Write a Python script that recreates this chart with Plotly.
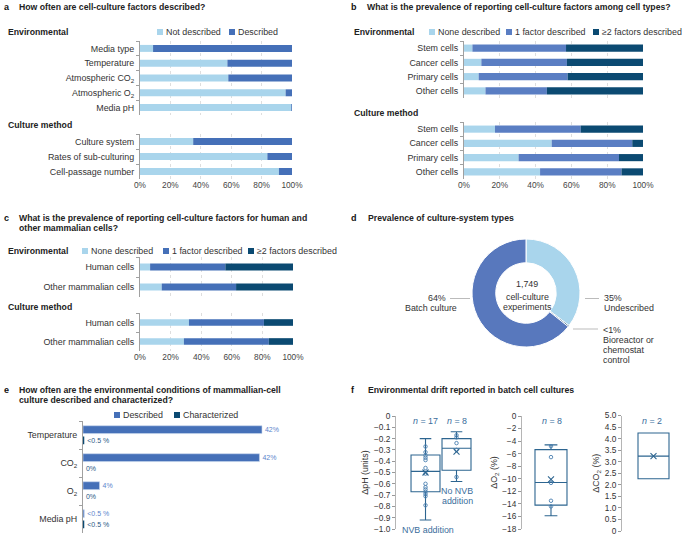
import numpy as np
import plotly.graph_objects as go

W, H = 685, 536
FONT = "Liberation Sans, Arial, Helvetica, sans-serif"

LIGHT = "#a9d5ec"
MED = "#4570b8"
MED_B = "#5a7ec3"
MED_D = "#5878bd"
DARK = "#0b4a72"
BOXC = "#2d6590"
TXTB = "#3a6d9c"
GREY = "#a0a0a0"

# ---------------- data ----------------
pct_ticks = [0, 20, 40, 60, 80, 100]
pct_labels = ["0%", "20%", "40%", "60%", "80%", "100%"]

# panel a
a_env_cats = ["Media type", "Temperature", "Atmospheric CO<sub>2</sub>",
              "Atmospheric O<sub>2</sub>", "Media pH"]
a_env_not = [8.6, 57.5, 58.1, 95.8, 99.5]
a_env_desc = [91.4, 42.5, 41.9, 4.2, 0.5]
a_cm_cats = ["Culture system", "Rates of sub-culturing", "Cell-passage number"]
a_cm_not = [35.0, 83.8, 91.4]
a_cm_desc = [65.0, 16.2, 8.6]

# panel b
b_cats = ["Stem cells", "Cancer cells", "Primary cells", "Other cells"]
b_env_none = [4.7, 9.7, 8.2, 12.0]
b_env_one = [52.3, 47.8, 49.7, 34.3]
b_env_two = [43.0, 42.5, 42.1, 53.7]
b_cm_none = [17.3, 49.0, 30.5, 42.5]
b_cm_one = [47.9, 45.0, 56.1, 45.5]
b_cm_two = [34.8, 6.0, 13.4, 12.0]

# panel c
c_cats = ["Human cells", "Other mammalian cells"]
c_env_none = [6.6, 14.2]
c_env_one = [49.2, 48.6]
c_env_two = [44.2, 37.2]
c_cm_none = [32.0, 28.7]
c_cm_one = [49.0, 55.5]
c_cm_two = [19.0, 15.8]

# panel d
d_labels = ["Undescribed", "Bioreactor or chemostat control", "Batch culture"]
d_values = [35.3, 0.4, 64.3]

# panel e
e_cats = ["Temperature", "CO<sub>2</sub>", "O<sub>2</sub>", "Media pH"]
e_desc = [42.2, 41.6, 3.9, 0.3]
e_char = [0.3, 0.0, 0.0, 0.3]
e_desc_text = ["42%", "42%", "4%", "<0.5 %"]
e_char_text = ["<0.5 %", "0%", "0%", "<0.5 %"]

# panel f
ph_groups = ["NVB addition", "No NVB addition"]
ph_q1 = [-0.67, -0.48]
ph_median = [-0.49, -0.285]
ph_q3 = [-0.345, -0.20]
ph_low = [-0.92, -0.58]
ph_high = [-0.20, -0.14]
ph_mean = [-0.50, -0.315]
ph_nvb_pts = [-0.27, -0.32, -0.35, -0.37, -0.39, -0.46, -0.51, -0.60,
              -0.63, -0.65, -0.67, -0.69, -0.71, -0.79]
ph_nonvb_pts = [-0.17, -0.19, -0.24, -0.30, -0.54]
ph_ticks = [0, -0.1, -0.2, -0.3, -0.4, -0.5, -0.6, -0.7, -0.8, -0.9, -1.0]
ph_ticklabels = ["0", "−0.1", "−0.2", "−0.3", "−0.4", "−0.5", "−0.6",
                 "−0.7", "−0.8", "−0.9", "−1.0"]

o2_q1, o2_median, o2_q3, o2_low, o2_high, o2_mean = -14.2, -10.6, -5.35, -15.9, -4.6, -10.1
o2_pts = [-4.8, -6.55, -10.65, -13.5, -14.4]

co2_q1, co2_median, co2_q3, co2_low, co2_high, co2_mean = 2.26, 3.24, 4.24, 2.26, 4.24, 3.24
co2_ticks = [0, 0.5, 1.0, 1.5, 2.0, 2.5, 3.0, 3.5, 4.0, 4.5, 5.0]
co2_ticklabels = ["0", "0.5", "1.0", "1.5", "2.0", "2.5", "3.0", "3.5", "4.0", "4.5", "5.0"]

LBL = 8.9      # category / legend / annotation text
TICK = 8.3     # numeric tick labels
TTL = 8.7      # bold titles


def px(x):
    return x / W


def py(y):
    return 1 - y / H


fig = go.Figure()


def add_stacked(xa, ya, cats, series, colors, width):
    base = np.zeros(len(cats))
    for vals, col in zip(series, colors):
        v = np.array(vals, dtype=float)
        fig.add_trace(go.Bar(y=cats, x=v, base=base.copy(), orientation="h",
                             marker=dict(color=col, line=dict(width=0)),
                             width=width, xaxis=xa, yaxis=ya,
                             showlegend=False, hoverinfo="skip"))
        base = base + v


add_stacked("x", "y", a_env_cats, [a_env_not, a_env_desc], [LIGHT, MED], 0.47)
add_stacked("x2", "y2", a_cm_cats, [a_cm_not, a_cm_desc], [LIGHT, MED], 0.47)
add_stacked("x3", "y3", b_cats, [b_env_none, b_env_one, b_env_two], [LIGHT, MED_B, DARK], 0.5)
add_stacked("x4", "y4", b_cats, [b_cm_none, b_cm_one, b_cm_two], [LIGHT, MED_B, DARK], 0.5)
add_stacked("x5", "y5", c_cats, [c_env_none, c_env_one, c_env_two], [LIGHT, MED, DARK], 0.35)
add_stacked("x6", "y6", c_cats, [c_cm_none, c_cm_one, c_cm_two], [LIGHT, MED, DARK], 0.35)

# panel e grouped bars
fig.add_trace(go.Bar(y=e_cats, x=e_desc, orientation="h", offset=-0.33, width=0.28,
                     marker=dict(color=MED, line=dict(color="#c9d6ee", width=0.6)),
                     text=e_desc_text, textposition="outside", cliponaxis=False,
                     textfont=dict(size=LBL, color="#5b84cc", family=FONT),
                     xaxis="x7", yaxis="y7", showlegend=False, hoverinfo="skip"))
fig.add_trace(go.Bar(y=e_cats, x=e_char, orientation="h", offset=0.05, width=0.28,
                     marker=dict(color=DARK, line=dict(width=0)),
                     text=e_char_text, textposition="outside", cliponaxis=False,
                     textfont=dict(size=LBL, color="#1f5785", family=FONT),
                     xaxis="x7", yaxis="y7", showlegend=False, hoverinfo="skip"))

# panel d donut
fig.add_trace(go.Pie(values=d_values, labels=d_labels, hole=0.56, sort=False,
                     direction="clockwise", rotation=0,
                     marker=dict(colors=[LIGHT, DARK, MED_D], line=dict(color="white", width=1)),
                     textinfo="none", hoverinfo="skip", showlegend=False,
                     domain=dict(x=[px(472), px(580)], y=[py(347), py(239)])))

# panel f boxes
box_style = dict(boxpoints=False, whiskerwidth=0.4, fillcolor="rgba(0,0,0,0)",
                 line=dict(color=BOXC, width=1.1), showlegend=False, hoverinfo="skip")
pt_style = dict(mode="markers", showlegend=False, hoverinfo="skip", cliponaxis=False,
                marker=dict(symbol="circle-open", size=3.5, color="#4a7fb0",
                            line=dict(width=0.9, color="#4a7fb0")))
mean_style = dict(mode="markers", showlegend=False, hoverinfo="skip", cliponaxis=False,
                  marker=dict(symbol="x-thin-open", size=6, color=BOXC,
                              line=dict(width=1.1, color=BOXC)))

for i, g in enumerate(ph_groups):
    fig.add_trace(go.Box(x=[g], q1=[ph_q1[i]], median=[ph_median[i]], q3=[ph_q3[i]],
                         lowerfence=[ph_low[i]], upperfence=[ph_high[i]],
                         width=0.935, xaxis="x8", yaxis="y8", **box_style))
fig.add_trace(go.Scatter(x=[ph_groups[0]] * len(ph_nvb_pts), y=ph_nvb_pts,
                         xaxis="x8", yaxis="y8", **pt_style))
fig.add_trace(go.Scatter(x=[ph_groups[1]] * len(ph_nonvb_pts), y=ph_nonvb_pts,
                         xaxis="x8", yaxis="y8", **pt_style))
fig.add_trace(go.Scatter(x=ph_groups, y=ph_mean, xaxis="x8", yaxis="y8", **mean_style))

fig.add_trace(go.Box(x=["O2"], q1=[o2_q1], median=[o2_median], q3=[o2_q3],
                     lowerfence=[o2_low], upperfence=[o2_high],
                     width=1.0, xaxis="x9", yaxis="y9", **box_style))
fig.add_trace(go.Scatter(x=["O2"] * len(o2_pts), y=o2_pts, xaxis="x9", yaxis="y9", **pt_style))
fig.add_trace(go.Scatter(x=["O2"], y=[o2_mean], xaxis="x9", yaxis="y9", **mean_style))

fig.add_trace(go.Box(x=["CO2"], q1=[co2_q1], median=[co2_median], q3=[co2_q3],
                     lowerfence=[co2_low], upperfence=[co2_high],
                     width=1.0, xaxis="x10", yaxis="y10", **box_style))
fig.add_trace(go.Scatter(x=["CO2"], y=[co2_mean], xaxis="x10", yaxis="y10", **mean_style))


# ---------------- axes ----------------
def cat_axis(y0, y1, n, anchor):
    return dict(domain=[py(y1), py(y0)], type="category", range=[n - 0.5, -0.5],
                showline=True, linecolor=GREY, linewidth=1, ticks="outside", ticklen=3,
                tickcolor=GREY, tickson="boundaries", ticklabelstandoff=3,
                tickfont=dict(size=LBL, color="#333", family=FONT), automargin=False,
                showgrid=False, zeroline=False, anchor=anchor, fixedrange=True)


def pct_axis(x0, x1, anchor, show):
    return dict(domain=[px(x0), px(x1)], range=[0, 100], tickvals=pct_ticks,
                ticktext=pct_labels, showticklabels=show, showgrid=True,
                gridcolor="#d6d6d6", griddash="dot", gridwidth=0.8, zeroline=False,
                showline=False, ticks="", tickfont=dict(size=TICK, color="#444", family=FONT),
                automargin=False, anchor=anchor, fixedrange=True)


layout_axes = dict(
    xaxis=pct_axis(140, 292, "y", False), yaxis=cat_axis(41, 115, 5, "x"),
    xaxis2=pct_axis(140, 292, "y2", True), yaxis2=cat_axis(134, 179, 3, "x2"),
    xaxis3=pct_axis(464, 643, "y3", False), yaxis3=cat_axis(41, 98, 4, "x3"),
    xaxis4=pct_axis(464, 643, "y4", True), yaxis4=cat_axis(122, 179, 4, "x4"),
    xaxis5=pct_axis(140, 293, "y5", False), yaxis5=cat_axis(257, 297, 2, "x5"),
    xaxis6=pct_axis(140, 293, "y6", True), yaxis6=cat_axis(313, 351, 2, "x6"),
)
layout_axes["xaxis7"] = dict(domain=[px(83), px(329)], range=[0, 58], visible=False,
                             automargin=False, anchor="y7", fixedrange=True)
layout_axes["yaxis7"] = cat_axis(421, 533, 4, "x7")


def f_y(y0, y1, rng, title, tv=None, tt=None, dtick=None):
    d = dict(domain=[py(y1), py(y0)], range=rng, showline=True, linecolor="#b5b5b5",
             linewidth=1, ticks="outside", ticklen=3, tickcolor="#999",
             tickfont=dict(size=TICK, color="#333", family=FONT), showgrid=False,
             zeroline=False, fixedrange=True, automargin=False,
             title=dict(text=title, font=dict(size=LBL, color="#333", family=FONT), standoff=3))
    if tv is not None:
        d["tickvals"] = tv
        d["ticktext"] = tt
    if dtick is not None:
        d["dtick"] = dtick
    return d


def f_x(x0, x1, rng, anchor):
    return dict(domain=[px(x0), px(x1)], type="category", range=rng, showticklabels=False,
                showgrid=False, zeroline=False, showline=False, ticks="", anchor=anchor,
                automargin=False, fixedrange=True)


layout_axes["xaxis8"] = f_x(396, 480, [-0.952, 1.758], "y8")
layout_axes["yaxis8"] = dict(f_y(416, 529, [-1.0, 0], "ΔpH (units)", ph_ticks, ph_ticklabels),
                             anchor="x8")
layout_axes["xaxis9"] = f_x(522, 590, [-0.906, 1.219], "y9")
layout_axes["yaxis9"] = dict(f_y(416, 529, [-18, 0], "ΔO<sub>2</sub> (%)", dtick=2), anchor="x9")
layout_axes["xaxis10"] = f_x(622, 685, [-1.016, 1.016], "y10")
layout_axes["yaxis10"] = dict(f_y(415.5, 531, [0, 5], "ΔCO<sub>2</sub> (%)",
                                  co2_ticks, co2_ticklabels), anchor="x10")

# ---------------- annotations ----------------
anns = []


def ann(text, x, y, size=LBL, bold=False, anchor="left", color="#333"):
    t = "<b>" + text + "</b>" if bold else text
    anns.append(dict(text=t, x=px(x), y=py(y), xref="paper", yref="paper",
                     xanchor=anchor, yanchor="middle", showarrow=False,
                     font=dict(size=size, color=color, family=FONT)))


# panel letters and titles
ann("a", 2, 7, 9, True, color="#111")
ann("How often are cell-culture factors described?", 17, 7, TTL, True, color="#222")
ann("b", 349, 7, 9, True, color="#111")
ann("What is the prevalence of reporting cell-culture factors among cell types?", 365, 7, TTL, True, color="#222")
ann("c", 2, 218, 9, True, color="#111")
ann("What is the prevalence of reporting cell-culture factors for human and", 17, 218, TTL, True, color="#222")
ann("other mammalian cells?", 17, 228, TTL, True, color="#222")
ann("d", 349, 218, 9, True, color="#111")
ann("Prevalence of culture-system types", 366, 218, TTL, True, color="#222")
ann("e", 2, 390, 9, True, color="#111")
ann("How often are the environmental conditions of mammallian-cell", 17, 390, TTL, True, color="#222")
ann("culture described and characterized?", 17, 400, TTL, True, color="#222")
ann("f", 349, 390, 9, True, color="#111")
ann("Environmental drift reported in batch cell cultures", 366, 390, TTL, True, color="#222")

# group headings
ann("Environmental", 6, 32, TTL, True, color="#222")
ann("Culture method", 6, 125, TTL, True, color="#222")
ann("Environmental", 352, 32, TTL, True, color="#222")
ann("Culture method", 352, 113, TTL, True, color="#222")
ann("Environmental", 6, 251, TTL, True, color="#222")
ann("Culture method", 6, 307, TTL, True, color="#222")

# custom legends
shapes = []


def legend_item(x, y, color, text):
    shapes.append(dict(type="rect", xref="paper", yref="paper",
                       x0=px(x), x1=px(x + 6), y0=py(y + 3), y1=py(y - 3),
                       fillcolor=color, line=dict(width=0)))
    ann(text, x + 7, y, LBL, color="#333")


legend_item(157, 32, LIGHT, "Not described")
legend_item(229, 32, MED, "Described")
legend_item(429, 32, LIGHT, "None described")
legend_item(506, 32, MED_B, "1 factor described")
legend_item(593, 32, DARK, "≥2 factors described")
legend_item(82, 251, LIGHT, "None described")
legend_item(163, 251, MED, "1 factor described")
legend_item(248, 251, DARK, "≥2 factors described")
legend_item(114, 415, MED, "Described")
legend_item(174, 415, DARK, "Characterized")

# donut labels
ann("1,749", 527, 284, LBL, anchor="center")
ann("cell-culture", 527, 297, LBL, anchor="center")
ann("experiments", 527, 307, LBL, anchor="center")
ann("64%", 448, 298, LBL, anchor="right")
ann("Batch culture", 459, 308, LBL, anchor="right")
ann("35%", 602, 298, LBL)
ann("Undescribed", 602, 308, LBL)
ann("<1%", 601, 330, LBL)
ann("Bioreactor or", 601, 340, LBL)
ann("chemostat", 601, 350, LBL)
ann("control", 601, 360, LBL)
for (x0, y0, x1, y1) in [(450, 298.5, 470, 298.5), (585, 298.5, 599, 298.5), (573, 329, 598, 329)]:
    shapes.append(dict(type="line", xref="paper", yref="paper", x0=px(x0), x1=px(x1),
                       y0=py(y0), y1=py(y1), line=dict(color="#aaa", width=0.8)))

# panel f labels
ann("<i>n</i> = 17", 425, 421, LBL, anchor="center", color=TXTB)
ann("<i>n</i> = 8", 457, 421, LBL, anchor="center", color=TXTB)
ann("<i>n</i> = 8", 552, 421, LBL, anchor="center", color=TXTB)
ann("<i>n</i> = 2", 652, 421, LBL, anchor="center", color=TXTB)
ann("No NVB", 457, 491, LBL, anchor="center", color=TXTB)
ann("addition", 457, 501, LBL, anchor="center", color=TXTB)
ann("NVB addition", 428, 530, LBL, anchor="center", color=TXTB)

fig.update_layout(
    width=W, height=H, margin=dict(l=0, r=0, t=0, b=0, autoexpand=False),
    paper_bgcolor="white", plot_bgcolor="white",
    barmode="overlay", showlegend=False, hovermode=False,
    font=dict(family=FONT, size=8, color="#333"),
    annotations=anns, shapes=shapes,
    **layout_axes,
)

fig.write_html("out.html", config={"displayModeBar": False, "staticPlot": True},
               post_script="document.body.style.margin='0px';")
